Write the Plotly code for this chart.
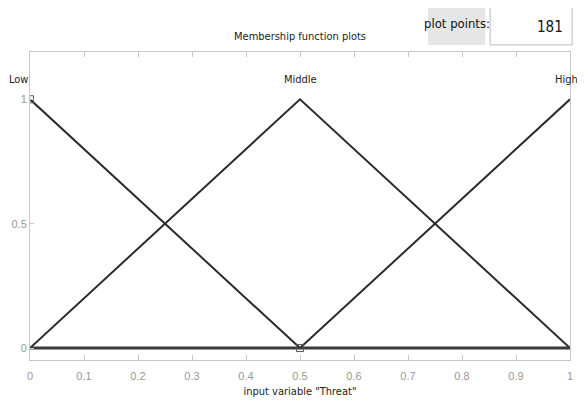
import plotly.graph_objects as go

x_points = [0, 0.5, 1]
low_values = [1, 0, 0]
middle_values = [0, 1, 0]
high_values = [0, 0, 1]
mf_names = ["Low", "Middle", "High"]
mf_label_x = [0, 0.5, 1]
x_ticks = [0, 0.1, 0.2, 0.3, 0.4, 0.5, 0.6, 0.7, 0.8, 0.9, 1]
x_tick_labels = ["0", "0.1", "0.2", "0.3", "0.4", "0.5", "0.6", "0.7", "0.8", "0.9", "1"]
y_ticks = [0, 0.5, 1]
y_tick_labels = ["0", "0.5", "1"]
marker_x = [0, 0.5]
marker_y = [1, 0]
plot_points = 181

FONT = "Liberation Sans Narrow, Arial Narrow, Liberation Sans, Arial, sans-serif"
COND = "DejaVu Sans Condensed, Liberation Sans Narrow, Arial Narrow, sans-serif"
LINE = "#2b2b2b"
GRID = "#c8c8c8"

fig = go.Figure()
for vals in [low_values, middle_values, high_values]:
    fig.add_trace(go.Scatter(x=x_points, y=vals, mode="lines",
                             line=dict(color=LINE, width=2), showlegend=False,
                             hoverinfo="skip"))
# thick zero baseline
fig.add_trace(go.Scatter(x=[0, 1], y=[0, 0], mode="lines",
                         line=dict(color="#3a3a3a", width=3), showlegend=False))
# selection markers
fig.add_trace(go.Scatter(x=marker_x, y=marker_y, mode="markers",
                         marker=dict(symbol="square-open", size=7, color="#555555",
                                     line=dict(width=1)),
                         showlegend=False))

shifts = {0: -12, 0.5: 0, 1: -4}
for name, xv in zip(mf_names, mf_label_x):
    fig.add_annotation(x=xv, y=1.08, text=name, showarrow=False,
                       font=dict(family=COND, size=11, color="#222222"),
                       xanchor="center", yanchor="middle", xshift=shifts[xv])

fig.update_xaxes(range=[0, 1], tickvals=x_ticks, ticktext=x_tick_labels,
                 ticks="inside", ticklen=5, tickcolor=GRID, mirror="ticks",
                 showline=True, linecolor=GRID, linewidth=1, showgrid=False,
                 zeroline=False, ticklabelstandoff=6, automargin=False,
                 tickfont=dict(family=FONT, size=11, color="#999999"),
                 title=dict(text='input variable "Threat"', standoff=6,
                            font=dict(family=COND, size=11, color="#222222")))
fig.update_yaxes(range=[-0.048, 1.19], tickvals=y_ticks, ticktext=y_tick_labels,
                 ticks="inside", ticklen=4, tickcolor=GRID, mirror=True,
                 showline=True, linecolor=GRID, linewidth=1, showgrid=False,
                 zeroline=False, ticklabelstandoff=0, automargin=False,
                 tickfont=dict(family=FONT, size=11, color="#999999"))

# title
fig.add_annotation(xref="paper", yref="paper", x=0.5, y=1.049, text="Membership function plots",
                   showarrow=False, font=dict(family=COND, size=11, color="#222222"),
                   xanchor="center", yanchor="middle")
# plot points box
fig.add_shape(type="rect", xref="paper", yref="paper", x0=0.737, x1=0.843, y0=1.023, y1=1.16,
              fillcolor="#e6e6e6", line=dict(width=0), layer="below")
fig.add_annotation(xref="paper", yref="paper", x=0.79, y=1.092, text="plot points:",
                   showarrow=False, font=dict(family=COND, size=13, color="#111111"),
                   xanchor="center", yanchor="middle")
fig.add_shape(type="rect", xref="paper", yref="paper", x0=0.852, x1=1.004, y0=1.023, y1=1.155,
              fillcolor="white", line=dict(color="#bbbbbb", width=1))
fig.add_annotation(xref="paper", yref="paper", x=0.99, y=1.08, text=str(plot_points),
                   showarrow=False, font=dict(family=COND, size=15, color="#111111"),
                   xanchor="right", yanchor="middle")

fig.update_layout(width=577, height=395, margin=dict(l=22, r=15, t=44, b=43),
                  paper_bgcolor="white", plot_bgcolor="white")
fig.write_html("out.html")
